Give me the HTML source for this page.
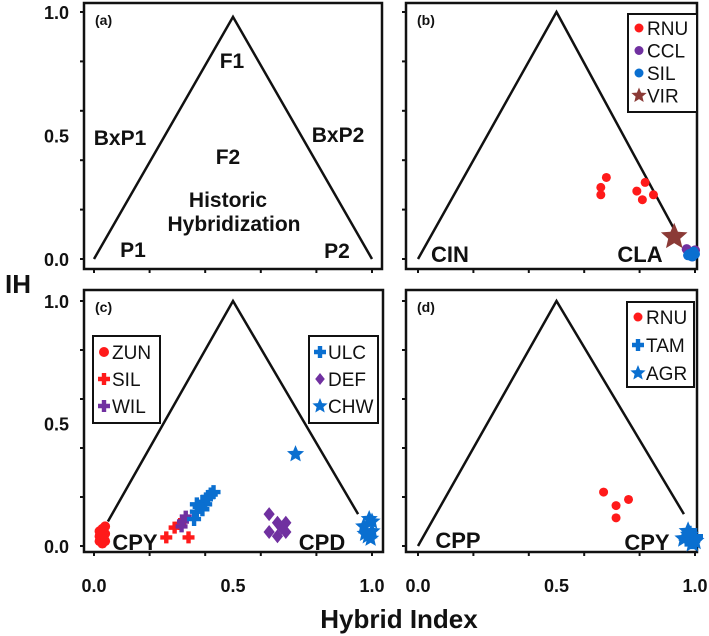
<!DOCTYPE html>
<html><head><meta charset="utf-8"><style>
body{margin:0;background:#fff;}
svg{display:block;font-family:"Liberation Sans Narrow","Liberation Sans",sans-serif;}
</style></head><body>
<svg id="fig" width="709" height="636" viewBox="0 0 709 636" xmlns="http://www.w3.org/2000/svg"></svg>
<script>
// ---- data ----
const yTickLabels = ["0.0","0.5","1.0"];
const xTickLabels = ["0.0","0.5","1.0"];
const bRNU_x = [0.68,0.66,0.66,0.82,0.79,0.85,0.81];
const bRNU_y = [0.33,0.29,0.26,0.31,0.275,0.26,0.24];
const bVIR_x = [0.925];
const bVIR_y = [0.09];
const bCCL_x = [0.97,0.99,1.0,0.98];
const bCCL_y = [0.04,0.01,0.035,0.02];
const bSIL_x = [0.98,0.995,0.99,1.0,0.975];
const bSIL_y = [0.02,0.03,0.01,0.02,0.015];
const cZUN_x = [0.02,0.03,0.04,0.02,0.03,0.04,0.03,0.02,0.04,0.03];
const cZUN_y = [0.02,0.03,0.05,0.06,0.07,0.08,0.01,0.04,0.02,0.05];
const cSIL_x = [0.26,0.29,0.34,0.31];
const cSIL_y = [0.035,0.075,0.035,0.09];
const cWIL_x = [0.32,0.33,0.315];
const cWIL_y = [0.10,0.12,0.08];
const cULC_x = [0.36,0.37,0.38,0.39,0.40,0.41,0.42,0.43,0.39,0.37];
const cULC_y = [0.11,0.14,0.16,0.18,0.17,0.20,0.21,0.22,0.15,0.17];
const cDEF_x = [0.63,0.66,0.69,0.63,0.66,0.69,0.675];
const cDEF_y = [0.13,0.095,0.095,0.057,0.04,0.057,0.075];
const cCHW_x = [0.725,0.99,0.97,1.0,0.985,0.995,0.975,1.0];
const cCHW_y = [0.375,0.11,0.08,0.06,0.04,0.03,0.05,0.10];
const dRNU_x = [0.67,0.715,0.76,0.715];
const dRNU_y = [0.22,0.165,0.19,0.115];
const dTAM_x = [0.97,0.99,0.98,1.0];
const dTAM_y = [0.03,0.02,0.05,0.04];
const dAGR_x = [0.96,0.98,1.0,0.99,0.975];
const dAGR_y = [0.03,0.045,0.02,0.01,0.06];

const NS="http://www.w3.org/2000/svg";
const svg=document.getElementById('fig');
function el(tag,attrs,parent){const e=document.createElementNS(NS,tag);for(const k in attrs)e.setAttribute(k,attrs[k]);(parent||svg).appendChild(e);return e;}
function txt(s,x,y,size,anchor,weight,parent){const t=el('text',{x:x,y:y,'font-size':size,'text-anchor':anchor||'middle','font-weight':weight||'normal',fill:'#111'},parent);t.textContent=s;return t;}

const panels={
 a:{bx:84,by:3,bw:298,bh:266,x0:94,x1:372,y0:259,y1:12},
 b:{bx:406,by:3,bw:291,bh:266,x0:418,x1:695,y0:259,y1:12},
 c:{bx:84,by:290,bw:299,bh:262,x0:94,x1:372,y0:546,y1:301},
 d:{bx:406,by:290,bw:291,bh:262,x0:418,x1:695,y0:546,y1:301}
};
function sx(p,v){return p.x0+(p.x1-p.x0)*v;}
function sy(p,v){return p.y0+(p.y1-p.y0)*v;}

function marker(g,kind,x,y,color,s){
 let e;
 if(kind==='circle'){e=el('circle',{cx:x,cy:y,r:s||4.5,fill:color},g);}
 else if(kind==='cross'){const r=s||6,w=2.2;e=el('path',{d:`M${x-r} ${y-w}H${x-w}V${y-r}H${x+w}V${y-w}H${x+r}V${y+w}H${x+w}V${y+r}H${x-w}V${y+w}H${x-r}Z`,fill:color},g);}
 else if(kind==='diamond'){const r=s||6;e=el('path',{d:`M${x} ${y-r}L${x+r*0.8} ${y}L${x} ${y+r}L${x-r*0.8} ${y}Z`,fill:color},g);}
 else {const R=s||7,r=R*0.45;let d='';for(let i=0;i<10;i++){const a=-Math.PI/2+i*Math.PI/5,rr=i%2?r:R;d+=(i?'L':'M')+(x+rr*Math.cos(a)).toFixed(1)+' '+(y+rr*Math.sin(a)).toFixed(1);}e=el('path',{d:d+'Z',fill:color},g);}
 return e;
}
function series(pk,name,xs,ys,kind,color,s){
 const p=panels[pk];const g=el('g',{});
 
 
 xs.forEach((v,i)=>{const m=marker(g,kind,sx(p,v),sy(p,ys[i]),color,s);
  
  });
}

const RED='#ff1a1a',PUR='#7030a0',BLU='#0a6fd0',BRN='#8b3a36';

for(const k in panels){
 const p=panels[k];const g=el('g',{});
 
 
 el('rect',{x:p.bx,y:p.by,width:p.bw,height:p.bh,fill:'none',stroke:'#111','stroke-width':2.5},g);
 for(let i=0;i<=5;i++){const v=i/5;
  el('line',{x1:p.bx-4,x2:p.bx,y1:sy(p,v),y2:sy(p,v),stroke:'#111','stroke-width':2},g);
  el('line',{x1:sx(p,v),x2:sx(p,v),y1:p.by+p.bh,y2:p.by+p.bh+4,stroke:'#111','stroke-width':2},g);}
 txt('('+k+')',p.bx+11,p.by+22,14,'start','bold',g);
}
['a','c'].forEach(k=>{const p=panels[k];yTickLabels.forEach((s,i)=>{const t=txt(s,69,sy(p,i*0.5)+7,18,'end','bold');});});
['c','d'].forEach(k=>{const p=panels[k];xTickLabels.forEach((s,i)=>{const t=txt(s,sx(p,i*0.5),592,18,'middle','bold');});});
const xt=txt('Hybrid Index',399,628,26,'middle','bold');
const yt=txt('IH',18,293,26,'middle','bold');

function tri(pk,pts){const p=panels[pk];const d=pts.map((q,i)=>(i?'L':'M')+sx(p,q[0])+' '+sy(p,q[1])).join('');const e=el('path',{d:d,fill:'none',stroke:'#111','stroke-width':2.5});}
tri('a',[[0,0],[0.5,0.98],[1,0]]);
tri('b',[[0,0],[0.5,1.0],[0.93,0.11]]);
tri('c',[[0.05,0.1],[0.5,1.0],[0.95,0.13]]);
tri('d',[[0,0],[0.5,1.0],[0.96,0.13]]);

[['F1',232,68],['BxP1',120,145],['BxP2',338,142],['F2',228,164],['Historic',228,207],['Hybridization',234,231],['P1',133,257],['P2',337,258]].forEach(a=>{const t=txt(a[0],a[1],a[2],21,'middle','bold');});
[['CIN',450,262],['CLA',640,262],['CPY',135,550],['CPD',322,550],['CPP',458,548],['CPY',647,550]].forEach(a=>{const t=txt(a[0],a[1],a[2],22,'middle','bold');});

series('b','RNU',bRNU_x,bRNU_y,'circle',RED);
series('b','CCL',bCCL_x,bCCL_y,'circle',PUR,5);
series('b','SIL',bSIL_x,bSIL_y,'circle',BLU,5);
series('b','VIR',bVIR_x,bVIR_y,'star',BRN,14);
series('c','ZUN',cZUN_x,cZUN_y,'circle',RED,5);
series('c','SIL',cSIL_x,cSIL_y,'cross',RED);
series('c','WIL',cWIL_x,cWIL_y,'cross',PUR);
series('c','ULC',cULC_x,cULC_y,'cross',BLU,7);
series('c','DEF',cDEF_x,cDEF_y,'diamond',PUR,7);
series('c','CHW',cCHW_x,cCHW_y,'star',BLU,9);
series('d','RNU',dRNU_x,dRNU_y,'circle',RED);
series('d','TAM',dTAM_x,dTAM_y,'cross',BLU,8);
series('d','AGR',dAGR_x,dAGR_y,'star',BLU,10);

function legend(name,x,y,w,h,items,dy,size){
 const g=el('g',{});
 el('rect',{x:x,y:y,width:w,height:h,fill:'#fff',stroke:'#111','stroke-width':2},g);
 items.forEach((it,i)=>{const cy=y+dy[0]+i*dy[1];
  const m=marker(g,it[1],x+11,cy,it[2],it[3]);
  const t=txt(it[0],x+19,cy+7,size,'start','normal',g);});
}
legend('legend-b',628,14,69,98,[['RNU','circle',RED,4.5],['CCL','circle',PUR,4.5],['SIL','circle',BLU,4.5],['VIR','star',BRN,8]],[14,22.5],19);
legend('legend-c-left',93,336,67,87,[['ZUN','circle',RED,5],['SIL','cross',RED,6],['WIL','cross',PUR,6]],[16,27],19);
legend('legend-c-right',309,336,69,87,[['ULC','cross',BLU,6],['DEF','diamond',PUR,6],['CHW','star',BLU,8]],[16,27],19);
legend('legend-d',627,302,67,85,[['RNU','circle',RED,4.5],['TAM','cross',BLU,6],['AGR','star',BLU,8]],[15,28],19);
</script>
</body></html>
